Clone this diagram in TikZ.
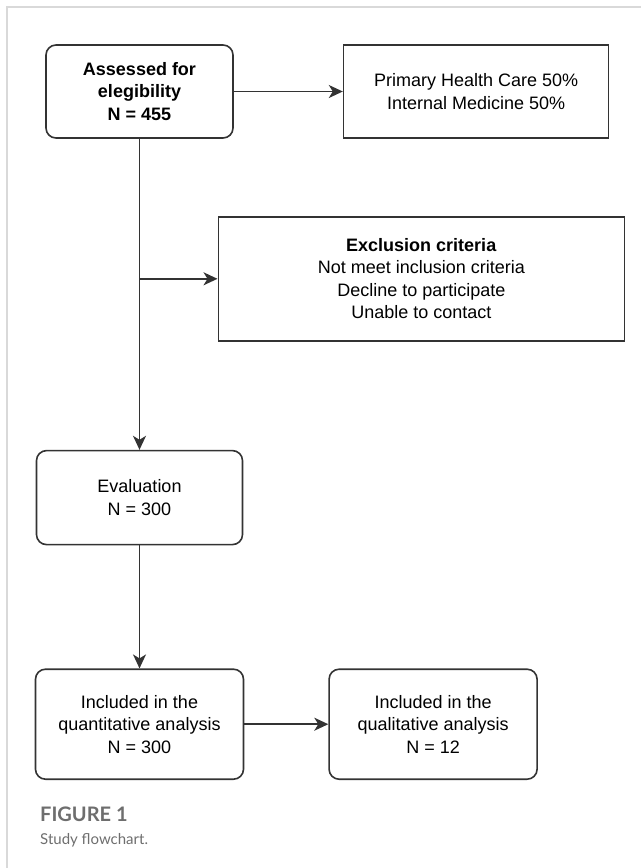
\documentclass[tikz,border=0pt]{standalone}
\usepackage{fontspec}
\setmainfont{Liberation Sans}
\newfontfamily\capfont{Lato}
\usetikzlibrary{arrows.meta, positioning, calc}
\definecolor{edgegray}{HTML}{333333}
\definecolor{framegray}{HTML}{D9D9D9}
\definecolor{capgray}{HTML}{6E6E6E}

\begin{document}
\begin{tikzpicture}[
    x=1pt, y=1pt,
    roundblock/.style={rectangle, draw=edgegray, line width=1.6pt, rounded corners=10pt, align=center, inner sep=0pt, font=\fontsize{18}{22.5}\selectfont},
    plainblock/.style={rectangle, draw=edgegray, line width=1.6pt, align=center, inner sep=0pt, font=\fontsize{18}{22.5}\selectfont},
    captext/.style={anchor=base west, inner sep=0pt, text=capgray},
    line/.style={draw=edgegray, line width=1.6pt, -{Stealth[length=14pt, width=13pt, inset=4pt]}}
]
    \useasboundingbox (0,0) rectangle (641,-868);

    % Panel frame
    \draw [framegray, line width=1.5pt] (7,-868) -- (7,-7) -- (641,-7);

    % Nodes
    \node (assess) [roundblock, minimum width=187pt, minimum height=93pt] at (139.5,-91.5) {\bfseries Assessed for\\\bfseries elegibility\\\bfseries N = 455};
    \node (primary) [plainblock, minimum width=265pt, minimum height=93pt, right=109pt of assess] {Primary Health Care 50\%\\Internal Medicine 50\%};

    \coordinate (split) at ([yshift=-140pt]assess.south);
    \node (exclusion) [plainblock, minimum width=406pt, minimum height=124pt, right=78pt of split] {\textbf{Exclusion criteria}\\Not meet inclusion criteria\\Decline to participate\\Unable to contact};

    \node (eval) [roundblock, minimum width=206pt, minimum height=94pt, below=311pt of assess] {Evaluation\\N = 300};
    \node (quant) [roundblock, minimum width=208pt, minimum height=110pt, below=123pt of eval] {Included in the\\quantitative analysis\\N = 300};
    \node (qual) [roundblock, minimum width=208pt, minimum height=110pt, right=84pt of quant] {Included in the\\qualitative analysis\\N = 12};

    % Caption
    \node (figlabel) [captext, font=\capfont\bfseries\fontsize{20}{24}\selectfont] at (40,-821) {FIGURE 1};
    \node (figtitle) [captext, font=\capfont\fontsize{15}{19}\selectfont] at (40,-844) {Study flowchart.};

    % Connectors
    \path [line] (assess) -- (primary);
    \draw [draw=edgegray, line width=1.6pt] (assess.south) -- (split);
    \path [line] (split) -- (exclusion);
    \path [line] (split) -- (eval);
    \path [line] (eval) -- (quant);
    \path [line] (quant) -- (qual);

\end{tikzpicture}
\end{document}
